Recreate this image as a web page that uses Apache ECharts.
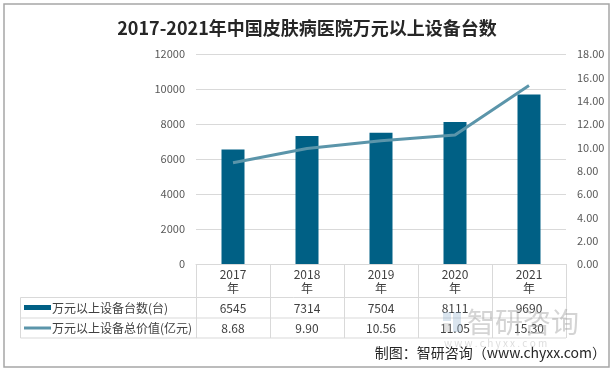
<!DOCTYPE html>
<html><head><meta charset="utf-8">
<script src="https://cdn.jsdelivr.net/npm/echarts@6/dist/echarts.min.js"></script>
<style>html,body{margin:0;padding:0;background:#fff}#c{width:614px;height:370px}</style>
</head><body><div id="c"></div>
<script>
var title = '2017-2021年中国皮肤病医院万元以上设备台数';
var categories = ['2017', '2018', '2019', '2020', '2021'];
var barName = '万元以上设备台数(台)';
var lineName = '万元以上设备总价值(亿元)';
var units = [6545, 7314, 7504, 8111, 9690];
var values = [8.68, 9.90, 10.56, 11.05, 15.30];
var source = '制图：智研咨询（www.chyxx.com）';

var FONT = '"Noto Sans CJK SC", "Noto Sans", sans-serif';
var txt = '#404040', gridC = '#d9d9d9';
var L = 196, R = 566, T = 54, B = 264;
var rowY = [297.5, 318, 338];

var chart = echarts.init(document.getElementById('c'), null, {renderer: 'canvas'});
chart.setOption({
  backgroundColor: '#fff',
  animation: false,
  textStyle: {fontFamily: FONT},
  title: {text: title, left: 'center', top: 14,
    textStyle: {fontFamily: FONT, fontSize: 18, fontWeight: 'bold', color: '#262626'}},
  grid: {left: L, right: 614 - R, top: T, bottom: 370 - B},
  xAxis: [
    {type: 'category', data: categories, position: 'bottom',
      axisLine: {lineStyle: {color: gridC, width: 1}},
      axisTick: {show: true, length: rowY[2] - B, lineStyle: {color: gridC}},
      axisLabel: {formatter: function (v) { return v + '\n年'; }, color: txt, fontSize: 12,
        lineHeight: 14, margin: 3, fontFamily: FONT}},
    {type: 'category', data: categories, position: 'bottom', offset: 38,
      axisLine: {show: false}, axisTick: {show: false},
      axisLabel: {formatter: function (v, i) { return String(units[i]); }, color: txt, fontSize: 12,
        margin: 0, fontFamily: FONT}},
    {type: 'category', data: categories, position: 'bottom', offset: 58,
      axisLine: {show: false}, axisTick: {show: false},
      axisLabel: {formatter: function (v, i) { return values[i].toFixed(2); }, color: txt, fontSize: 12,
        margin: 0, fontFamily: FONT}}
  ],
  yAxis: [
    {type: 'value', min: 0, max: 12000, interval: 2000,
      axisLine: {show: false}, axisTick: {show: false},
      axisLabel: {color: '#595959', fontSize: 11, margin: 11, fontFamily: FONT,
        formatter: function (v) { return String(v); }},
      splitLine: {lineStyle: {color: gridC}}},
    {type: 'value', min: 0, max: 18, interval: 2,
      axisLine: {show: false}, axisTick: {show: false},
      axisLabel: {color: '#595959', fontSize: 11, margin: 11, fontFamily: FONT,
        formatter: function (v) { return v.toFixed(2); }},
      splitLine: {show: false}}
  ],
  series: [
    {name: barName, type: 'bar', data: units, xAxisIndex: 0, yAxisIndex: 0,
      barWidth: 23, itemStyle: {color: '#006085'}},
    {name: lineName, type: 'line', data: values, xAxisIndex: 0, yAxisIndex: 1,
      symbol: 'none', lineStyle: {color: '#5b95aa', width: 3}, itemStyle: {color: '#5b95aa'}}
  ],
  graphic: [
    {type: 'rect', shape: {x: 4, y: 4, width: 605, height: 363}, silent: true,
      style: {fill: 'none', stroke: '#a6a6a6', lineWidth: 1.5}},
    {type: 'line', shape: {x1: 20.5, y1: rowY[0], x2: R, y2: rowY[0]}, style: {stroke: gridC, lineWidth: 1}},
    {type: 'line', shape: {x1: 20.5, y1: rowY[1], x2: R, y2: rowY[1]}, style: {stroke: gridC, lineWidth: 1}},
    {type: 'line', shape: {x1: 20.5, y1: rowY[2], x2: R, y2: rowY[2]}, style: {stroke: gridC, lineWidth: 1}},
    {type: 'line', shape: {x1: 20.5, y1: rowY[0], x2: 20.5, y2: rowY[2]}, style: {stroke: gridC, lineWidth: 1}},
    {type: 'rect', shape: {x: 24, y: 305, width: 27, height: 5}, style: {fill: '#006085'}},
    {type: 'rect', shape: {x: 24, y: 326.5, width: 27, height: 3}, style: {fill: '#5b95aa'}},
    {type: 'text', x: 52, y: 308, style: {text: barName, fill: txt, font: '12px ' + FONT, textVerticalAlign: 'middle'}},
    {type: 'text', x: 52, y: 328, style: {text: lineName, fill: txt, font: '12px ' + FONT, textVerticalAlign: 'middle'}},
    {type: 'rect', shape: {x: 443, y: 312, width: 8, height: 9}, z: 100, style: {fill: 'rgba(150,180,210,0.35)'}},
    {type: 'rect', shape: {x: 453, y: 312, width: 8, height: 20}, z: 100, style: {fill: 'rgba(150,180,210,0.35)'}},
    {type: 'rect', shape: {x: 443, y: 323, width: 8, height: 9}, z: 100, style: {fill: 'rgba(170,170,170,0.35)'}},
    {type: 'text', x: 467, y: 322, z: 100, style: {text: '智研咨询', fill: 'rgba(160,160,160,0.45)', font: '28px ' + FONT, textVerticalAlign: 'middle'}},
    {type: 'text', x: 444, y: 343, z: 100, style: {text: 'w w w . c h y x x . c o m', fill: 'rgba(170,170,170,0.4)', font: '10px ' + FONT, textVerticalAlign: 'middle'}},
    {type: 'text', right: 8, top: 346, style: {text: source, fill: '#262626', font: '14px ' + FONT}}
  ]
});
</script></body></html>
